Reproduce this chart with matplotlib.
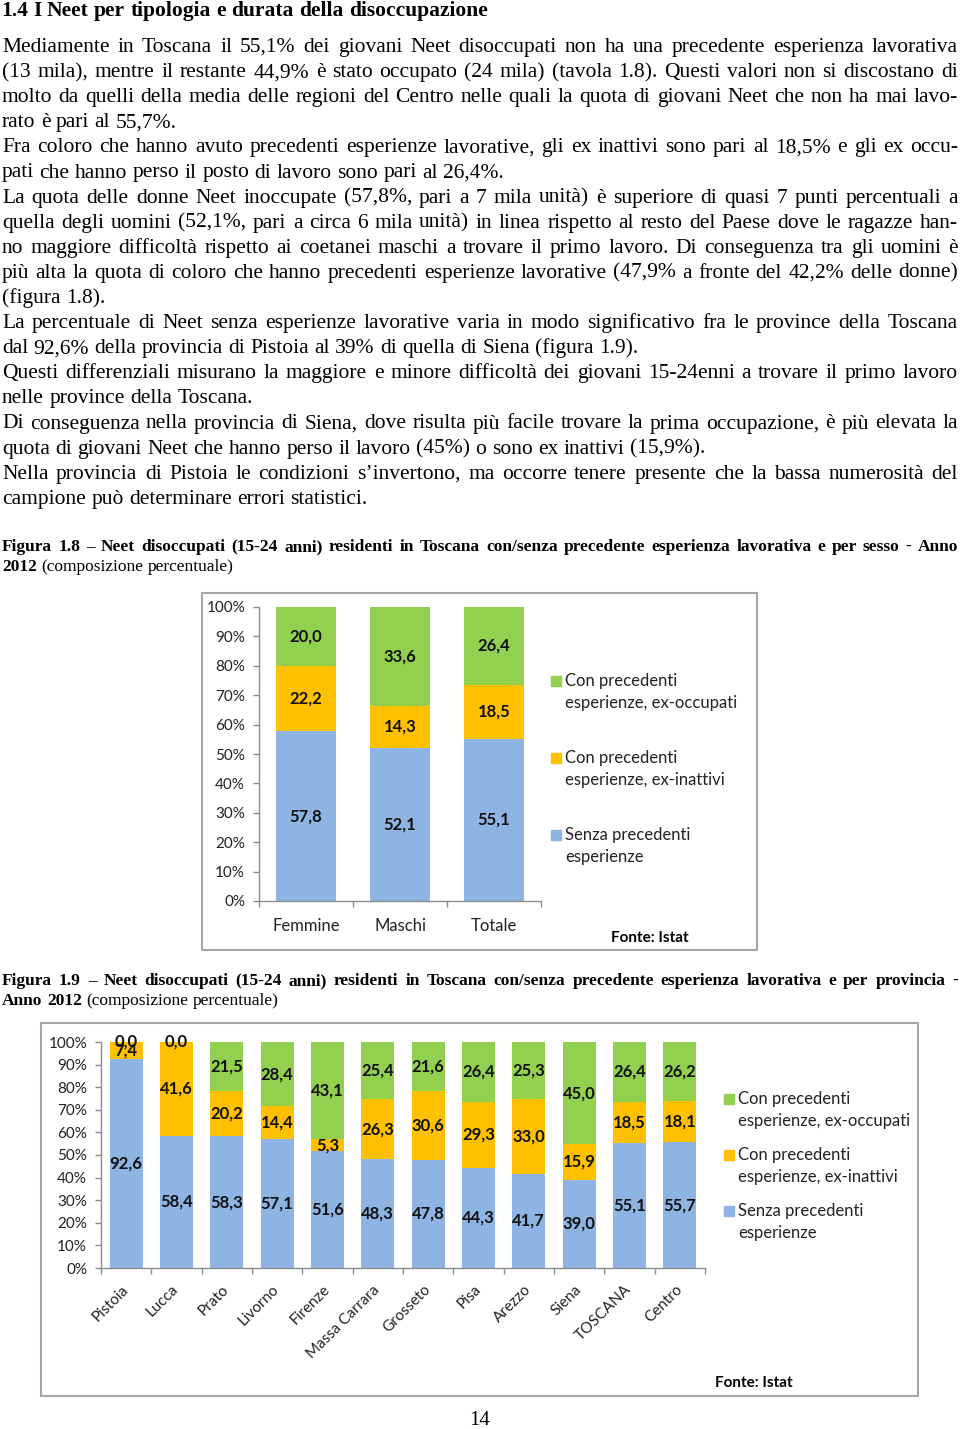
import matplotlib
matplotlib.use('Agg')
import matplotlib.pyplot as plt
from matplotlib.patches import Rectangle

W, H = 960, 1429

# page text
heading = '1.4 I Neet per tipologia e durata della disoccupazione'
body = [
    ('Mediamente in Toscana il 55,1% dei giovani Neet disoccupati non ha una precedente esperienza lavorativa', True),
    ('(13 mila), mentre il restante 44,9% è stato occupato (24 mila) (tavola 1.8). Questi valori non si discostano di', True),
    ('molto da quelli della media delle regioni del Centro nelle quali la quota di giovani Neet che non ha mai lavo-', True),
    ('rato è pari al 55,7%.', False),
    ('Fra coloro che hanno avuto precedenti esperienze lavorative, gli ex inattivi sono pari al 18,5% e gli ex occu-', True),
    ('pati che hanno perso il posto di lavoro sono pari al 26,4%.', False),
    ('La quota delle donne Neet inoccupate (57,8%, pari a 7 mila unità) è superiore di quasi 7 punti percentuali a', True),
    ('quella degli uomini (52,1%, pari a circa 6 mila unità) in linea rispetto al resto del Paese dove le ragazze han-', True),
    ('no maggiore difficoltà rispetto ai coetanei maschi a trovare il primo lavoro. Di conseguenza tra gli uomini è', True),
    ('più alta la quota di coloro che hanno precedenti esperienze lavorative (47,9% a fronte del 42,2% delle donne)', True),
    ('(figura 1.8).', False),
    ('La percentuale di Neet senza esperienze lavorative varia in modo significativo fra le province della Toscana', True),
    ('dal 92,6% della provincia di Pistoia al 39% di quella di Siena (figura 1.9).', False),
    ('Questi differenziali misurano la maggiore e minore difficoltà dei giovani 15-24enni a trovare il primo lavoro', True),
    ('nelle province della Toscana.', False),
    ('Di conseguenza nella provincia di Siena, dove risulta più facile trovare la prima occupazione, è più elevata la', True),
    ('quota di giovani Neet che hanno perso il lavoro (45%) o sono ex inattivi (15,9%).', False),
    ('Nella provincia di Pistoia le condizioni s’invertono, ma occorre tenere presente che la bassa numerosità del', True),
    ('campione può determinare errori statistici.', False),
]
caption_18 = 'Figura 1.8 – Neet disoccupati (15-24 anni) residenti in Toscana con/senza precedente esperienza lavorativa e per sesso - Anno'
caption_18b = ('2012', ' (composizione percentuale)')
caption_19 = 'Figura 1.9 – Neet disoccupati (15-24 anni) residenti in Toscana con/senza precedente esperienza lavorativa e per provincia -'
caption_19b = ('Anno 2012', ' (composizione percentuale)')

# figura 1.8 data
sesso = ['Femmine', 'Maschi', 'Totale']
sesso_senza = [57.8, 52.1, 55.1]
sesso_inattivi = [22.2, 14.3, 18.5]
sesso_occupati = [20.0, 33.6, 26.4]

# figura 1.9 data
province = ['Pistoia', 'Lucca', 'Prato', 'Livorno', 'Firenze', 'Massa Carrara',
            'Grosseto', 'Pisa', 'Arezzo', 'Siena', 'TOSCANA', 'Centro']
prov_senza = [92.6, 58.4, 58.3, 57.1, 51.6, 48.3, 47.8, 44.3, 41.7, 39.0, 55.1, 55.7]
prov_inattivi = [7.4, 41.6, 20.2, 14.4, 5.3, 26.3, 30.6, 29.3, 33.0, 15.9, 18.5, 18.1]
prov_occupati = [0.0, 0.0, 21.5, 28.4, 43.1, 25.4, 21.6, 26.4, 25.3, 45.0, 26.4, 26.2]

legend_lines = [('Con precedenti', 'esperienze, ex-occupati'),
                ('Con precedenti', 'esperienze, ex-inattivi'),
                ('Senza precedenti', 'esperienze')]

GREEN, ORANGE, BLUE = '#92D050', '#FFC000', '#8DB4E2'
AXIS_GRAY = '#8c8c8c'
SERIF = 'Liberation Serif'
SANS = 'Lato'

fig = plt.figure(figsize=(W / 100, H / 100), dpi=100)
renderer = fig.canvas.get_renderer()


def fx(x):
    return x / W


def fy(y):
    return 1 - y / H


def text_width(s, size, weight='normal'):
    t = fig.text(0, 0, s, fontsize=size, fontweight=weight, family=SERIF)
    w = t.get_window_extent(renderer).width
    t.remove()
    return w


def put_line(tokens, y, size, justify, x0=2, x1=958):
    # tokens: list of (word, weight); y is the baseline in pixels
    arts = [fig.text(0, fy(y), w, fontsize=size, fontweight=wt, family=SERIF,
                     va='baseline', ha='left') for w, wt in tokens]
    widths = [a.get_window_extent(renderer).width for a in arts]
    space = text_width('x x', size) - text_width('xx', size)
    gap = space
    if justify and len(arts) > 1:
        gap = (x1 - x0 - sum(widths)) / (len(arts) - 1)
        if gap < 2:
            # too long for the line: squeeze the font a little
            scale = (x1 - x0 - 2 * (len(arts) - 1)) / sum(widths)
            for a in arts:
                a.set_fontsize(size * scale)
            widths = [w * scale for w in widths]
            gap = (x1 - x0 - sum(widths)) / (len(arts) - 1)
    x = x0
    for a, w in zip(arts, widths):
        a.set_x(fx(x))
        x += w + gap


# heading and body
put_line([(w, 'bold') for w in heading.split()], 16, 15.5, False, x0=1)
body_size = 15.5
for i, (line, just) in enumerate(body):
    put_line([(w, 'normal') for w in line.split()], 52 + i * 25.1, body_size, just)

cap_size = 12.5
put_line([(w, 'bold') for w in caption_18.split()], 551, cap_size, True)
put_line([(w, 'bold') for w in caption_18b[0].split()] +
         [(w, 'normal') for w in caption_18b[1].split()], 571, cap_size, False)
put_line([(w, 'bold') for w in caption_19.split()], 985, cap_size, True)
put_line([(w, 'bold') for w in caption_19b[0].split()] +
         [(w, 'normal') for w in caption_19b[1].split()], 1005, cap_size, False)

fig.text(fx(480), fy(1418), '14', fontsize=15, family=SERIF, ha='center', va='center_baseline')

# chart frames
for (x0, y0, x1, y1) in [(202, 593, 757, 950), (41, 1023, 918, 1396)]:
    fig.patches.append(Rectangle((fx(x0), fy(y1)), fx(x1 - x0), (y1 - y0) / H,
                                 transform=fig.transFigure, fill=False,
                                 edgecolor='#a6a6a6', linewidth=1.5))


def fmt(v):
    return f'{v:.1f}'.replace('.', ',')


def stacked_chart(ax, cats, senza, inattivi, occupati, width, rotate):
    xs = range(len(cats))
    b1 = ax.bar(xs, senza, width, color=BLUE)
    b2 = ax.bar(xs, inattivi, width, bottom=senza, color=ORANGE)
    bottom3 = [a + b for a, b in zip(senza, inattivi)]
    b3 = ax.bar(xs, occupati, width, bottom=bottom3, color=GREEN)
    for cont, vals in [(b1, senza), (b2, inattivi), (b3, occupati)]:
        ax.bar_label(cont, labels=[fmt(v) for v in vals], label_type='center',
                     fontsize=12, fontweight='bold', color='#111111', family=SANS)
    ax.set_xlim(-0.5, len(cats) - 0.5)
    ax.set_ylim(0, 100)
    ax.set_yticks(range(0, 101, 10))
    ax.set_yticklabels([f'{t}%' for t in range(0, 101, 10)], fontsize=11, family=SANS, color='#222222')
    ax.set_xticks([i - 0.5 for i in range(len(cats) + 1)])
    ax.set_xticklabels([])
    ax.set_xticks(list(xs), minor=True)
    if rotate:
        ax.set_xticklabels(cats, minor=True, rotation=45, ha='right', va='center',
                           rotation_mode='anchor', fontsize=11, family=SANS, color='#222222')
        ax.tick_params(axis='x', which='minor', length=0, pad=14)
    else:
        ax.set_xticklabels(cats, minor=True, fontsize=12, family=SANS, color='#222222')
        ax.tick_params(axis='x', which='minor', length=0, pad=12)
    ax.tick_params(axis='both', which='major', direction='out', length=4, color=AXIS_GRAY, width=1)
    ax.tick_params(axis='y', pad=6)
    for s in ['top', 'right']:
        ax.spines[s].set_visible(False)
    for s in ['left', 'bottom']:
        ax.spines[s].set_color(AXIS_GRAY)
        ax.spines[s].set_linewidth(1)


def legend(x_sq, x_txt, rows):
    for (y1, y2), (l1, l2), col in zip(rows, legend_lines, [GREEN, ORANGE, BLUE]):
        fig.patches.append(Rectangle((fx(x_sq), fy(y1 + 5)), 10 / W, 10 / H,
                                     transform=fig.transFigure, color=col))
        fig.text(fx(x_txt), fy(y1), l1, fontsize=12, family=SANS, va='center', color='#222222')
        fig.text(fx(x_txt), fy(y2), l2, fontsize=12, family=SANS, va='center', color='#222222')


# figura 1.8
ax1 = fig.add_axes([fx(259), fy(901), (541 - 259) / W, (901 - 607) / H])
stacked_chart(ax1, sesso, sesso_senza, sesso_inattivi, sesso_occupati, 0.64, False)
legend(551, 565, [(681, 703), (758, 780), (835, 857)])
fig.text(fx(611), fy(938), 'Fonte: Istat', fontsize=11, fontweight='bold', family=SANS, va='center')

# figura 1.9
ax2 = fig.add_axes([fx(101), fy(1268), (705 - 101) / W, (1268 - 1042) / H])
stacked_chart(ax2, province, prov_senza, prov_inattivi, prov_occupati, 0.66, True)
legend(724, 738, [(1099, 1121), (1155, 1177), (1211, 1233)])
fig.text(fx(715), fy(1383), 'Fonte: Istat', fontsize=11, fontweight='bold', family=SANS, va='center')

fig.savefig('out.png', dpi=100)
